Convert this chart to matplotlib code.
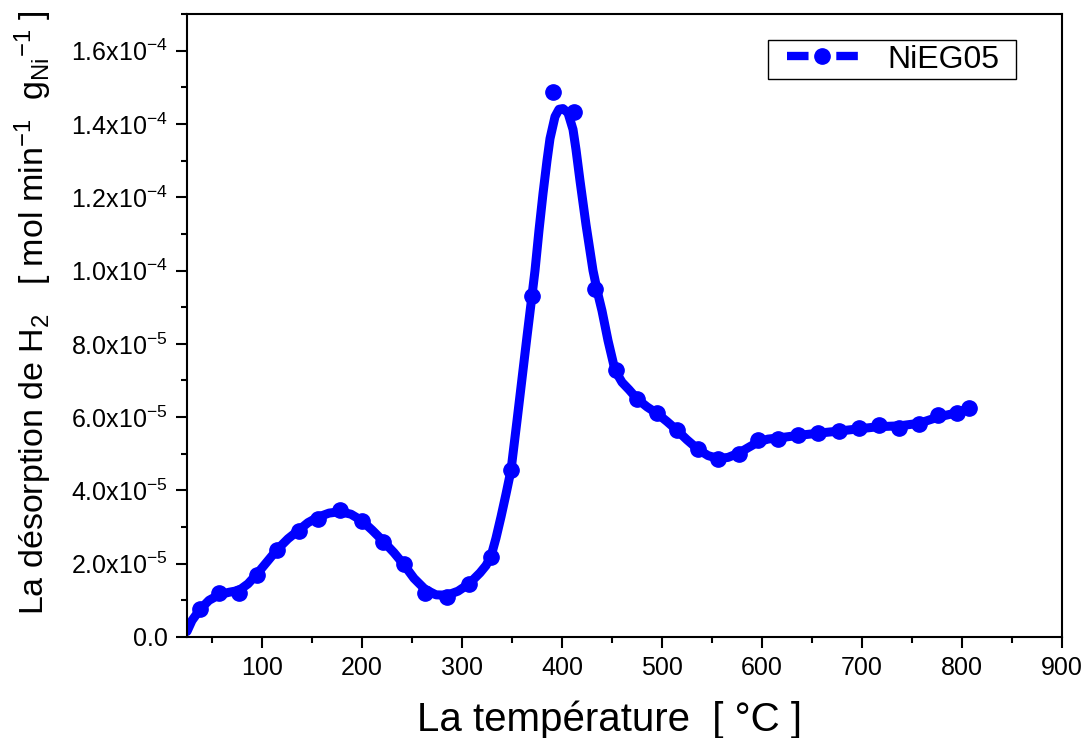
import numpy as np
import matplotlib
matplotlib.use('Agg')
import matplotlib.pyplot as plt
from matplotlib.lines import Line2D
from matplotlib.patches import Rectangle
from matplotlib.ticker import FixedLocator, MultipleLocator

plt.rcParams['font.family'] = 'Liberation Sans'
plt.rcParams['mathtext.fontset'] = 'custom'
plt.rcParams['mathtext.rm'] = 'Liberation Sans'
plt.rcParams['mathtext.it'] = 'Liberation Sans:italic'
plt.rcParams['mathtext.bf'] = 'Liberation Sans:bold'
plt.rcParams['lines.scale_dashes'] = False

# values are in units of 1e-5 mol min-1 gNi-1
SCALE = 1e-5

# measured points (markers)
temp_pts = [38, 57, 77, 95, 115, 137, 156, 178, 200, 221, 242, 263, 285, 307,
            329, 349, 370, 391, 412, 433, 454, 475, 495, 515, 536, 556, 577,
            596, 616, 636, 656, 677, 697, 717, 737, 757, 776, 795, 807]
h2_pts = [0.76, 1.21, 1.19, 1.69, 2.37, 2.89, 3.23, 3.46, 3.16, 2.60, 1.98,
          1.21, 1.10, 1.44, 2.19, 4.55, 9.31, 14.87, 14.32, 9.49, 7.29, 6.50,
          6.11, 5.64, 5.12, 4.87, 5.00, 5.37, 5.41, 5.50, 5.57, 5.62, 5.70,
          5.78, 5.71, 5.80, 6.05, 6.11, 6.26]

# smoothed curve as drawn on the figure
temp_curve = [25, 30, 38, 47, 57, 67, 77, 86, 95, 105, 115, 126, 137, 146, 156,
              167, 178, 189, 200, 210, 221, 232, 242, 252, 263, 274, 285, 296,
              307, 318, 324, 329, 334, 339, 344, 349, 355, 360, 365, 370, 373,
              377, 381, 385, 388, 393, 397, 401, 406, 411, 414, 418, 424, 431,
              436, 440, 446, 453, 460, 467, 475, 485, 495, 505, 515, 525, 536,
              546, 556, 566, 577, 587, 596, 606, 616, 636, 656, 677, 697, 717,
              737, 757, 776, 795, 807]
h2_curve = [0.15, 0.45, 0.75, 1.00, 1.15, 1.22, 1.27, 1.45, 1.72, 2.05, 2.38,
            2.68, 2.92, 3.12, 3.27, 3.38, 3.42, 3.35, 3.17, 2.92, 2.62, 2.30,
            1.97, 1.60, 1.30, 1.15, 1.14, 1.25, 1.45, 1.75, 1.95, 2.20, 2.70,
            3.28, 3.90, 4.55, 5.90, 7.05, 8.20, 9.32, 10.00, 11.10, 12.10,
            13.00, 13.60, 14.20, 14.40, 14.42, 14.30, 13.85, 13.30, 12.45,
            11.25, 10.00, 9.35, 8.90, 8.09, 7.28, 6.95, 6.75, 6.50, 6.28, 6.10,
            5.88, 5.64, 5.38, 5.12, 4.95, 4.87, 4.90, 5.02, 5.18, 5.32, 5.40,
            5.43, 5.50, 5.56, 5.62, 5.68, 5.74, 5.76, 5.83, 6.00, 6.12, 6.24]

x_ticks = [100, 200, 300, 400, 500, 600, 700, 800, 900]
y_ticks = [0, 2e-5, 4e-5, 6e-5, 8e-5, 1.0e-4, 1.2e-4, 1.4e-4, 1.6e-4]
y_labels = ['0.0',
            r'$\mathregular{2.0x10^{-5}}$', r'$\mathregular{4.0x10^{-5}}$',
            r'$\mathregular{6.0x10^{-5}}$', r'$\mathregular{8.0x10^{-5}}$',
            r'$\mathregular{1.0x10^{-4}}$', r'$\mathregular{1.2x10^{-4}}$',
            r'$\mathregular{1.4x10^{-4}}$', r'$\mathregular{1.6x10^{-4}}$']

blue = '#0000FF'

fig = plt.figure(figsize=(10.86, 7.38), dpi=100)
ax = fig.add_axes([0.1722, 0.1369, 0.8057, 0.8441])

ax.plot(temp_curve, np.array(h2_curve) * SCALE, color=blue, lw=6.5,
        solid_capstyle='round', solid_joinstyle='round', zorder=2)
ax.plot(temp_pts, np.array(h2_pts) * SCALE, ls='none', marker='o', ms=11,
        color=blue, zorder=3)

ax.set_xlim(25, 900)
ax.set_ylim(0, 1.7e-4)
ax.xaxis.set_major_locator(FixedLocator(x_ticks))
ax.xaxis.set_minor_locator(MultipleLocator(50))
ax.yaxis.set_major_locator(FixedLocator(y_ticks))
ax.yaxis.set_minor_locator(MultipleLocator(1e-5))
ax.set_yticklabels(y_labels)

ax.tick_params(which='both', direction='out', width=1.5, top=False, right=False)
ax.tick_params(which='major', length=8, labelsize=18, pad=6)
ax.tick_params(which='minor', length=4.5)
for sp in ax.spines.values():
    sp.set_linewidth(1.5)

ax.set_xlabel('La température  [ °C ]', fontsize=29)
ax.xaxis.set_label_coords(0.483, -0.151)
ax.xaxis.label.set_verticalalignment('baseline')

ax.set_ylabel(r'La désorption de H$\mathregular{_2}$   [ mol min$\mathregular{^{-1}}$'
              r'  g$\mathregular{_{Ni}}$$\mathregular{^{-1}}$ ]', fontsize=24.5)
ax.yaxis.set_label_coords(-0.152, 0.52)

# legend: handle + text, frame drawn separately (Origin style box)
handle = Line2D([], [], color=blue, lw=6, ls=(0, (15.5, 20)), marker='o', ms=11)
leg = ax.legend([handle], ['NiEG05'], loc='center left',
                bbox_to_anchor=(787 / 1086, 1 - 59.5 / 738),
                bbox_transform=fig.transFigure, borderaxespad=0, borderpad=0,
                fontsize=23, handlelength=51 / 23, handletextpad=0.92,
                frameon=False, numpoints=1)
fig.patches.append(Rectangle((768 / 1086, 1 - 79 / 738), 248 / 1086, 39 / 738,
                             transform=fig.transFigure, fill=False,
                             edgecolor='black', lw=1.0, zorder=5))

fig.savefig('out.png', dpi=100)
